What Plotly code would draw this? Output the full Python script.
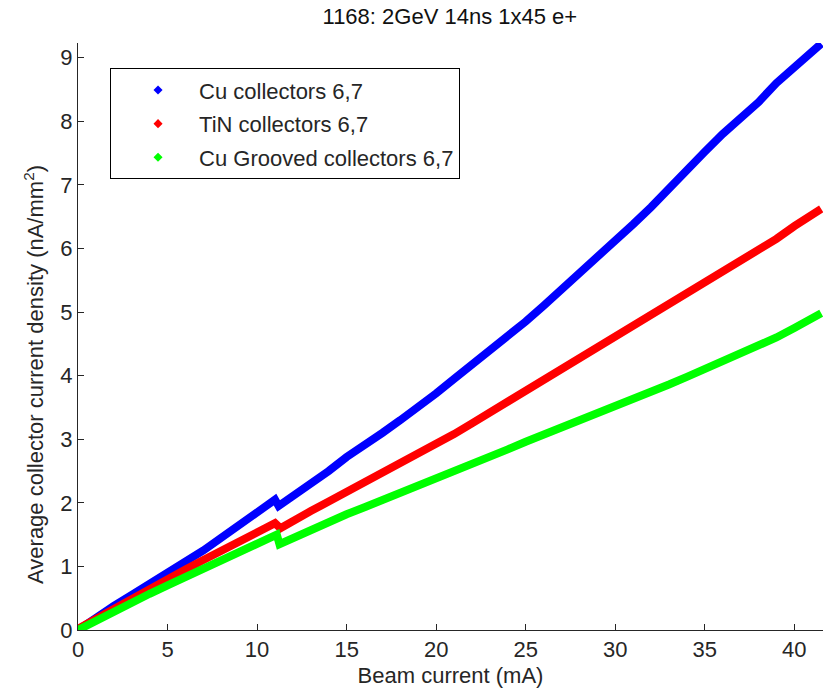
import plotly.graph_objects as go

# Beam current (mA) and average collector current density (nA/mm^2)
cu_x = [0, 1, 2, 3, 4, 5, 6, 7, 8, 9, 10, 11, 11.2, 12, 13, 14, 15, 16, 17, 18, 19, 20,
        21, 22, 23, 24, 25, 26, 27, 28, 29, 30, 31, 32, 33, 34, 35, 36, 37, 38, 39, 40, 41, 41.5]
cu_y = [0.0, 0.2, 0.38, 0.55, 0.72, 0.9, 1.07, 1.25, 1.45, 1.65, 1.85, 2.05, 1.95, 2.1, 2.3,
        2.5, 2.72, 2.9, 3.1, 3.3, 3.5, 3.72, 3.95, 4.17, 4.4, 4.62, 4.85, 5.1, 5.35, 5.6, 5.85,
        6.1, 6.38, 6.65, 6.95, 7.25, 7.52, 7.8, 8.05, 8.3, 8.6, 8.85, 9.1, 9.22]

tin_x = [0, 1, 2, 3, 4, 5, 6, 7, 8, 9, 10, 11, 11.3, 12, 13, 14, 15, 16, 17, 18, 19, 20,
         21, 22, 23, 24, 25, 26, 27, 28, 29, 30, 31, 32, 33, 34, 35, 36, 37, 38, 39, 40, 41, 41.5]
tin_y = [0.02, 0.18, 0.34, 0.5, 0.65, 0.8, 0.95, 1.1, 1.25, 1.4, 1.55, 1.68, 1.6, 1.72, 1.87,
         2.02, 2.17, 2.3, 2.45, 2.6, 2.75, 2.92, 3.08, 3.25, 3.42, 3.58, 3.75, 3.92, 4.1, 4.28,
         4.45, 4.6, 4.78, 4.95, 5.12, 5.3, 5.48, 5.65, 5.82, 5.98, 6.15, 6.35, 6.52, 6.62]

grv_x = [0, 1, 2, 3, 4, 5, 6, 7, 8, 9, 10, 11.1, 11.25, 12, 13, 14, 15, 16, 17, 18, 19, 20,
         21, 22, 23, 24, 25, 26, 27, 28, 29, 30, 31, 32, 33, 34, 35, 36, 37, 38, 39, 40, 41, 41.5]
grv_y = [0.0, 0.15, 0.3, 0.43, 0.57, 0.7, 0.83, 0.96, 1.09, 1.22, 1.35, 1.5, 1.35, 1.45, 1.58,
         1.7, 1.82, 1.93, 2.04, 2.15, 2.26, 2.37, 2.48, 2.6, 2.72, 2.84, 2.96, 3.07, 3.18, 3.3,
         3.4, 3.5, 3.62, 3.74, 3.86, 3.98, 4.1, 4.22, 4.35, 4.48, 4.6, 4.75, 4.9, 4.98]

series = [
    ("Cu collectors 6,7", cu_x, cu_y, "#0000FF"),
    ("TiN collectors 6,7", tin_x, tin_y, "#FF0000"),
    ("Cu Grooved collectors 6,7", grv_x, grv_y, "#00FF00"),
]

FONT = "Liberation Sans, Arial, sans-serif"
FS = 22
INK = "#262626"
fig = go.Figure()

for name, xs, ys, col in series:
    fig.add_trace(go.Scatter(x=xs, y=ys, mode="lines", line=dict(color=col, width=8),
                             showlegend=False, hoverinfo="skip"))
# legend entries drawn as dot markers
for i, (name, xs, ys, col) in enumerate(series):
    fig.add_trace(go.Scatter(x=[None], y=[None], mode="markers", name=name,
                             legendgroup=f"g{i}",
                             marker=dict(symbol="diamond", size=7, color=col)))

axis_common = dict(
    showgrid=False, zeroline=False, showline=True, linecolor=INK, linewidth=1,
    ticks="inside", ticklen=6, tickcolor=INK, tickwidth=1,
    tickfont=dict(family=FONT, size=FS, color=INK), mirror=False,
)

fig.update_layout(
    width=828, height=689,
    margin=dict(l=78, r=5, t=43, b=59),
    paper_bgcolor="white", plot_bgcolor="white",
    font=dict(family=FONT, size=FS, color=INK),
    title=dict(text="1168: 2GeV 14ns 1x45 e+", x=0.5433, xanchor="center", y=0.977, yanchor="middle",
               font=dict(family=FONT, size=FS, color="#111111")),
    xaxis=dict(range=[0, 41.6], tickvals=[0, 5, 10, 15, 20, 25, 30, 35, 40],
               title=dict(text="Beam current (mA)", standoff=6,
                          font=dict(family=FONT, size=FS, color=INK)),
               **axis_common),
    yaxis=dict(range=[0, 9.23], tickvals=list(range(10)), **axis_common),
    annotations=[dict(text="Average collector current density (nA/mm<sup>2</sup>)",
                      xref="paper", yref="paper", x=-0.06, y=0.435,
                      xanchor="center", yanchor="middle", textangle=-90, showarrow=False,
                      font=dict(family=FONT, size=FS, color=INK))],
    legend=dict(x=0.043, y=0.957, xanchor="left", yanchor="top",
                bordercolor="#000000", borderwidth=1, bgcolor="white",
                font=dict(family=FONT, size=FS, color=INK),
                indentation=6, itemwidth=72, tracegroupgap=2),
)

fig.write_html("out.html")
